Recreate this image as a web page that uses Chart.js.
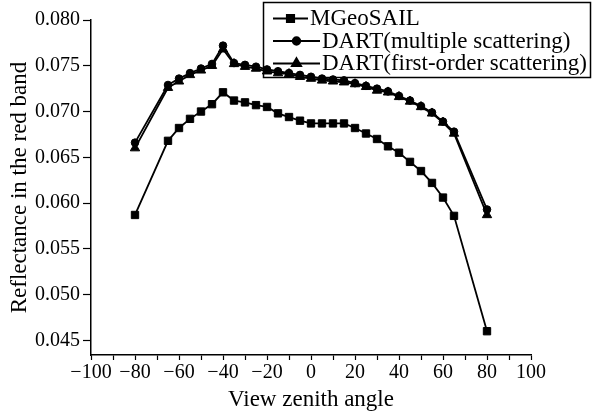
<!DOCTYPE html>
<html>
<head>
<meta charset="utf-8">
<script src="https://cdn.jsdelivr.net/npm/chart.js@4/dist/chart.umd.min.js"></script>
<style>
  html, body { margin: 0; padding: 0; background: #fff; }
</style>
</head>
<body>
<canvas id="reflectanceChart" width="593" height="414"></canvas>
<script>
// view zenith angles (degrees)
const angles = [-80, -65, -60, -55, -50, -45, -40, -35, -30, -25, -20, -15, -10, -5, 0,
                5, 10, 15, 20, 25, 30, 35, 40, 45, 50, 55, 60, 65, 80];

const mgeosail = [0.0587, 0.0668, 0.0682, 0.0692, 0.0700, 0.0708, 0.0721, 0.0712, 0.0710, 0.0707,
                  0.0705, 0.0698, 0.0694, 0.0690, 0.0687, 0.0687, 0.0687, 0.0687, 0.0682, 0.0676,
                  0.0670, 0.0662, 0.0655, 0.0645, 0.0635, 0.0622, 0.0606, 0.0586, 0.0460];

const dartMultiple = [0.0666, 0.0729, 0.0736, 0.0742, 0.0747, 0.0752, 0.0772, 0.0753, 0.0751, 0.0749,
                      0.0746, 0.0744, 0.0742, 0.0740, 0.0738, 0.0736, 0.0735, 0.0734, 0.0731, 0.0728,
                      0.0725, 0.0722, 0.0717, 0.0712, 0.0706, 0.0699, 0.0689, 0.0678, 0.0593];

const dartFirstOrder = [0.0660, 0.0726, 0.0733, 0.0740, 0.0745, 0.0750, 0.0768, 0.0752, 0.0749, 0.0747,
                        0.0744, 0.0742, 0.0741, 0.0738, 0.0736, 0.0734, 0.0733, 0.0732, 0.0730, 0.0727,
                        0.0723, 0.0721, 0.0716, 0.0711, 0.0705, 0.0698, 0.0688, 0.0676, 0.0587];

const seriesNames = ['MGeoSAIL', 'DART(multiple scattering)', 'DART(first-order scattering)'];
const seriesMarkers = ['rect', 'circle', 'triangle'];

const xTicks = [-100, -90, -80, -70, -60, -50, -40, -30, -20, -10, 0, 10, 20, 30, 40, 50, 60, 70, 80, 90, 100];
const yTicks = [0.045, 0.0475, 0.050, 0.0525, 0.055, 0.0575, 0.060, 0.0625, 0.065, 0.0675,
                0.070, 0.0725, 0.075, 0.0775, 0.080];

const toPoints = vals => angles.map((a, i) => ({ x: a, y: vals[i] }));
const markerRadius = { rect: 5.2, circle: 3.8, triangle: 5.4 };

Chart.defaults.font.family = "'Liberation Serif', 'Times New Roman', serif";
Chart.defaults.color = '#000';

const serif = size => ({ family: "'Liberation Serif', 'Times New Roman', serif", size: size });

// boxed legend sitting over the top right of the plot
const boxLegend = {
  id: 'boxLegend',
  beforeDatasetsDraw(chart) {
    const ctx = chart.ctx;
    ctx.save();
    ctx.fillStyle = '#fff';
    ctx.fillRect(263, 2, 328, 75);
    ctx.strokeStyle = '#000';
    ctx.lineWidth = 1.5;
    ctx.strokeRect(263.5, 2.5, 327, 75);

    const rows = [25, 47.5, 70];
    const lineEnds = [308, 320, 320];
    ctx.font = "23px 'Liberation Serif', 'Times New Roman', serif";
    ctx.textBaseline = 'alphabetic';
    chart.data.datasets.forEach((ds, i) => {
      const y = rows[i] - 6.5;
      const x0 = 273, x1 = lineEnds[i];
      ctx.strokeStyle = '#000';
      ctx.lineWidth = 1.8;
      ctx.beginPath();
      ctx.moveTo(x0, y);
      ctx.lineTo(x1, y);
      ctx.stroke();
      ctx.fillStyle = '#000';
      Chart.helpers.drawPoint(ctx, {
        pointStyle: ds.pointStyle, radius: ds.pointRadius, rotation: 0, borderWidth: 1
      }, (x0 + x1) / 2, y);
      ctx.fillStyle = '#000';
      ctx.fillText(ds.label, x1 + 2, rows[i]);
    });
    ctx.restore();
  }
};

const datasets = [mgeosail, dartMultiple, dartFirstOrder].map((vals, i) => ({
  label: seriesNames[i],
  data: toPoints(vals),
  borderColor: '#000',
  backgroundColor: '#000',
  borderWidth: 1.8,
  pointStyle: seriesMarkers[i],
  pointRadius: markerRadius[seriesMarkers[i]],
  pointBorderWidth: 1,
  pointBackgroundColor: '#000',
  pointBorderColor: '#000',
  tension: 0,
  fill: false
}));

new Chart(document.getElementById('reflectanceChart').getContext('2d'), {
  type: 'line',
  data: { datasets: datasets },
  options: {
    responsive: false,
    animation: false,
    layout: { padding: { left: 0, top: 20, right: 62, bottom: 0 } },
    plugins: {
      legend: { display: false },
      tooltip: { enabled: false }
    },
    scales: {
      x: {
        type: 'linear',
        min: -100,
        max: 100,
        afterBuildTicks: axis => { axis.ticks = xTicks.map(v => ({ value: v })); },
        afterFit: axis => { axis.height = 59; },
        grid: { drawOnChartArea: false, tickLength: 5, tickColor: '#000', tickWidth: 1.2 },
        border: { color: '#000', width: 1.5 },
        ticks: {
          autoSkip: false,
          maxRotation: 0,
          padding: 1,
          font: serif(20),
          color: '#000',
          callback: v => (v % 20 === 0 ? (v < 0 ? '\u2212' + Math.abs(v) : String(v)) : '')
        },
        title: { display: true, text: 'View zenith angle', font: serif(23), color: '#000', padding: { top: 0, bottom: 0 } }
      },
      y: {
        min: 0.0434,
        max: 0.080,
        afterBuildTicks: axis => { axis.ticks = yTicks.map(v => ({ value: v })); },
        afterFit: axis => { axis.width = 91; },
        grid: {
          drawOnChartArea: false,
          tickLength: 8,
          tickColor: '#000',
          tickWidth: 1.2,
          tickBorderDash: ctx => (ctx.tick && Math.round(ctx.tick.value * 10000) % 50 !== 0 ? [0, 4, 4, 0] : [])
        },
        border: { color: '#000', width: 1.5 },
        ticks: {
          padding: 3,
          font: serif(20),
          color: '#000',
          callback: v => (Math.round(v * 10000) % 50 === 0 ? v.toFixed(3) : '')
        },
        title: { display: true, text: 'Reflectance in the red band', font: serif(23), color: '#000', padding: { top: 6, bottom: 0 } }
      }
    }
  },
  plugins: [boxLegend]
});
</script>
</body>
</html>
